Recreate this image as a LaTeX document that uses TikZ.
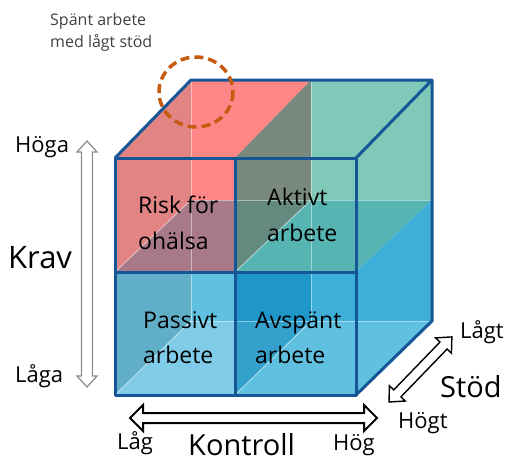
\documentclass[tikz,border=0pt]{standalone}
\usepackage{fontspec}
\setmainfont{Open Sans}
\usepackage{tikz}

\definecolor{edgeblue}{RGB}{22,86,150}
\definecolor{pinkdark}{RGB}{227,132,132}
\definecolor{pinklight}{RGB}{255,134,134}
\definecolor{mauve}{RGB}{168,121,136}
\definecolor{greygreen}{RGB}{122,137,125}
\definecolor{greygreendk}{RGB}{100,138,128}
\definecolor{tealpale}{RGB}{128,200,184}
\definecolor{tealmid}{RGB}{86,180,178}
\definecolor{steel}{RGB}{96,174,200}
\definecolor{skymid}{RGB}{96,192,224}
\definecolor{skypale}{RGB}{128,204,232}
\definecolor{deepsky}{RGB}{30,150,200}
\definecolor{deepskylt}{RGB}{52,160,204}
\definecolor{skyblue}{RGB}{62,175,216}
\definecolor{circlebrown}{RGB}{197,90,17}
\definecolor{notegrey}{RGB}{64,64,64}

\tikzset{cubeedge/.style={draw=edgeblue, line width=3pt, line join=round}}
\tikzset{backline/.style={draw=white, draw opacity=.45, line width=1pt}}
\tikzset{celltext/.style={font=\fontsize{23}{28}\selectfont, anchor=base west, inner sep=0pt}}
\tikzset{endtext/.style={font=\fontsize{22}{26}\selectfont, anchor=base west, inner sep=0pt}}
\tikzset{axistext/.style={font=\fontsize{29}{34}\selectfont, anchor=base west, inner sep=0pt}}

% hollow double arrow: length, shaft half width, head half width, head length
\newcommand{\hollowdbl}[4]{(0,0) -- (#4,#3) -- (#4,#2) -- ({#1-#4},#2) -- ({#1-#4},#3) -- (#1,0) -- ({#1-#4},-#3) -- ({#1-#4},-#2) -- (#4,-#2) -- (#4,-#3) -- cycle}

\begin{document}
\begin{tikzpicture}[x=1pt, y=-1pt]
\useasboundingbox (0,0) rectangle (508,461);

% top row
\fill[pinkdark] (115,158) -- (191,80) -- (191,200) -- (115,272) -- cycle;
\fill[pinklight] (191,80) -- (311,80) -- (235,158) -- (235,200) -- (191,200) -- cycle;
\fill[mauve] (115,272) -- (191,200) -- (235,200) -- (235,272) -- cycle;
\fill[greygreen] (311,80) -- (311,200) -- (235,200) -- (235,158) -- cycle;
\fill[greygreendk] (235,200) -- (311,200) -- (235,272) -- cycle;
\fill[tealpale] (311,80) -- (432,80) -- (432,200) -- (311,200) -- cycle;
\fill[tealmid] (235,272) -- (311,200) -- (432,200) -- (356,272) -- cycle;

% bottom row
\fill[steel] (115,272) -- (191,272) -- (191,321) -- (115,395) -- cycle;
\fill[skymid] (191,272) -- (235,272) -- (235,321) -- (191,321) -- cycle;
\fill[skypale] (115,395) -- (191,321) -- (235,321) -- (235,395) -- cycle;
\fill[deepsky] (235,272) -- (311,272) -- (311,321) -- (235,321) -- cycle;
\fill[deepskylt] (235,321) -- (311,321) -- (235,395) -- cycle;
\fill[skyblue] (311,272) -- (356,272) -- (432,200) -- (432,321) -- (311,321) -- cycle;
\fill[skymid] (235,395) -- (311,321) -- (432,321) -- (356,395) -- cycle;

% back edges seen through
\draw[backline] (191,80) -- (191,321);
\draw[backline] (311,80) -- (311,321);
\draw[backline] (191,200) -- (432,200);
\draw[backline] (191,321) -- (432,321);
\draw[backline] (115,272) -- (191,200);
\draw[backline] (235,272) -- (311,200);
\draw[backline] (115,395) -- (191,321);
\draw[backline] (235,395) -- (311,321);

% front edges
\draw[cubeedge] (115,158) rectangle (356,395);
\draw[cubeedge] (235,158) -- (235,395);
\draw[cubeedge] (115,272) -- (356,272);
\draw[cubeedge] (115,158) -- (191,80) -- (432,80) -- (356,158);
\draw[cubeedge] (432,80) -- (432,321) -- (356,395);

\draw[circlebrown, line width=3.5pt, dash pattern=on 9pt off 5pt] (196,92) ellipse [x radius=37, y radius=35];

\node[anchor=base west, inner sep=0pt, text=notegrey, font=\fontsize{16}{20}\selectfont] (spaent1) at (50,25) {Spänt arbete};
\node[anchor=base west, inner sep=0pt, text=notegrey, font=\fontsize{16}{20}\selectfont] (spaent2) at (50,47) {med lågt stöd};

\node[celltext] (risk1) at (138,213) {Risk för};
\node[celltext] (risk2) at (138,249) {ohälsa};
\node[celltext] (aktiv1) at (267,205) {Aktivt};
\node[celltext] (aktiv2) at (267,241) {arbete};
\node[celltext] (passiv1) at (143,328) {Passivt};
\node[celltext] (passiv2) at (143,363) {arbete};
\node[celltext] (avsp1) at (255,328) {Avspänt};
\node[celltext] (avsp2) at (255,363) {arbete};

% Krav axis
\coordinate (kravlo) at (87,387);
\coordinate (kravhi) at (87,141);
\begin{scope}[shift={(kravlo)}, rotate=90]
\draw[draw=black!45, fill=white, line width=1.2pt] \hollowdbl{246}{5.5}{10}{11};
\end{scope}
\node[endtext] (hoega) at (15,152) {Höga};
\node[endtext] (laaga) at (15,382) {Låga};
\node[axistext, font=\fontsize{31}{36}\selectfont] (krav) at (8,268) {Krav};

% Kontroll axis
\coordinate (kontlo) at (130,418);
\coordinate (konthi) at (377,418);
\begin{scope}[shift={(kontlo)}]
\draw[fill=white, line width=2pt] \hollowdbl{247}{5}{13}{13};
\end{scope}
\node[endtext] (laag) at (117,449) {Låg};
\node[endtext] (hoeg) at (333,450) {Hög};
\node[axistext] (kontroll) at (188,455) {Kontroll};

% Stod axis
\coordinate (stodlo) at (389,402);
\coordinate (stodhi) at (452,337);
\begin{scope}[shift={(stodlo)}, rotate=46]
\draw[fill=white, line width=1.4pt] \hollowdbl{90.5}{5}{11}{12};
\end{scope}
\node[endtext] (laagt) at (460,338) {Lågt};
\node[axistext] (stoed) at (440,397) {Stöd};
\node[endtext] (hoegt) at (398,428) {Högt};

\end{tikzpicture}
\end{document}
